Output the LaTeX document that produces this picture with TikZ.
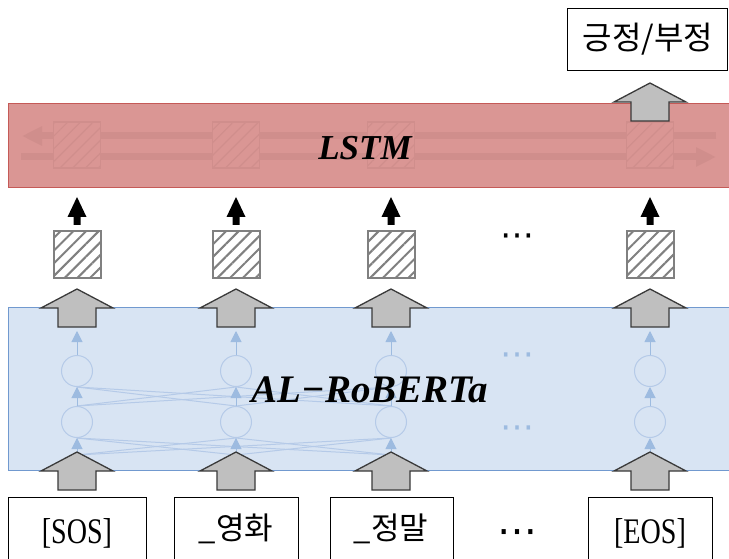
\documentclass[tikz,border=0pt]{standalone}
\usepackage{fontspec}
\setmainfont{Liberation Serif}
\newfontfamily\narrowserif[FakeStretch=0.78]{Liberation Serif}
\newfontfamily\krfont{Noto Sans CJK KR}
\newfontfamily\symfont{DejaVu Sans}
\usetikzlibrary{arrows.meta,patterns.meta}

\definecolor{lstmfill}{HTML}{DA9694}
\definecolor{lstmedge}{HTML}{C55A57}
\definecolor{lstmfaint}{HTML}{D08E8C}
\definecolor{encfill}{HTML}{D8E4F3}
\definecolor{encedge}{HTML}{7199CF}
\definecolor{netline}{HTML}{B5CAE8}
\definecolor{netarrow}{HTML}{9DBBE0}
\definecolor{arrowfill}{HTML}{BFBFBF}
\definecolor{arrowedge}{HTML}{3A3A3A}
\definecolor{hatchgray}{HTML}{808080}

\tikzset{
  band/.style={line width=1pt},
  tokenbox/.style={draw=black, line width=0.9pt},
  hatchbox/.style={draw=hatchgray, line width=2pt, inner sep=0pt,
    minimum width=47pt, minimum height=47pt, fill=white,
    postaction={pattern={Lines[angle=45,distance=9pt,line width=2pt]}, pattern color=hatchgray}},
  ghostbox/.style={draw=lstmfaint, line width=1.5pt, inner sep=0pt,
    minimum width=47pt, minimum height=46pt, fill=lstmfill,
    postaction={pattern={Lines[angle=45,distance=9pt,line width=1.2pt]}, pattern color=lstmfaint}},
  ghostflow/.style={draw=lstmfaint, line width=7pt, -{Triangle[length=20pt,width=18pt]}},
  cell/.style={circle, draw=netline, line width=1pt, minimum size=31pt, inner sep=0pt},
  netwire/.style={draw=netline, line width=1pt},
  netflow/.style={draw=netarrow, line width=1pt, -{Triangle[length=11pt,width=11pt]}},
  bigup/.pic={\draw[fill=arrowfill, draw=arrowedge, line width=1.3pt, line join=miter]
      (0,0) -- (36,19) -- (19,19) -- (19,38) -- (-19,38) -- (-19,19) -- (-36,19) -- cycle;},
  smallup/.pic={\fill[black]
      (0,0) -- (9.5,20) -- (3.5,20) -- (3.5,28) -- (-3.5,28) -- (-3.5,20) -- (-9.5,20) -- cycle;},
  latinlbl/.style={font=\narrowserif\fontsize{36}{40}\selectfont, anchor=base, inner sep=0pt},
  korlbl/.style={font=\krfont\fontsize{31}{36}\selectfont, inner sep=0pt},
  dotslbl/.style={font=\symfont\fontsize{34}{38}\selectfont, inner sep=0pt},
}

\begin{document}
\begin{tikzpicture}[x=1pt,y=-1pt]
\useasboundingbox (0,0) rectangle (729,559);
\fill[white] (0,0) rectangle (729,559);

% ---- output box ----
\draw[tokenbox] (567,8) rectangle (727,70);
\node[font=\krfont\fontsize{32}{36}\selectfont, inner sep=0pt] (out) at (648,39) {긍정/부정};

% ---- LSTM band ----
\filldraw[band, fill=lstmfill, draw=lstmedge] (8,104) rectangle (740,188);
\coordinate (bwdR) at (716,136);
\coordinate (bwdL) at (22,136);
\coordinate (fwdL) at (21,157);
\coordinate (fwdR) at (716,157);
\draw[ghostflow] (bwdR) -- (bwdL);
\draw[ghostflow] (fwdL) -- (fwdR);
\foreach \i/\x in {1/77,2/236,3/391,4/650}
  \node[ghostbox] (g\i) at (\x,145) {};
\node[font=\fontsize{35}{40}\selectfont\bfseries\itshape, anchor=base, inner sep=0pt] (lstm) at (365,160) {LSTM};
\pic at (650,83) {bigup};

% ---- token vectors between the two bands ----
\foreach \i/\x in {1/77,2/236,3/391,4/650}{
  \node[hatchbox] (h\i) at (\x,254.5) {};
  \pic at (\x,197) {smallup};
}
\node[dotslbl] (mdots) at (517,240) {⋯};

% ---- encoder band ----
\filldraw[band, fill=encfill, draw=encedge] (8,307) rectangle (740,470);
\foreach \i/\x in {1/77,2/236,3/391,4/650}{
  \node[cell] (u\i) at (\x,371) {};
  \node[cell] (l\i) at (\x,422) {};
  \coordinate (top\i) at (\x,331);
  \coordinate (bot\i) at (\x,455);
}
\foreach \i in {1,2,3}{
  \foreach \j in {1,2,3}{
    \ifnum\i=\j\relax\else
      \draw[netwire] (l\i.north) -- (u\j.south);
      \draw[netwire] (bot\i) -- (l\j.south);
    \fi
  }
}
\foreach \i in {1,2,3,4}{
  \draw[netflow] (u\i.north) -- (top\i);
  \draw[netflow] (l\i.north) -- (u\i.south);
  \draw[netflow] (bot\i) -- (l\i.south);
}
\node[dotslbl, text=netarrow] (edots1) at (517,359) {⋯};
\node[dotslbl, text=netarrow] (edots2) at (517,432) {⋯};
\node[font=\fontsize{39}{44}\selectfont\bfseries\itshape, anchor=base, inner sep=0pt] (enc) at (370,402) {AL−RoBERTa};

% ---- gray block arrows across the encoder ----
\foreach \x in {77,236,391,650}{
  \pic at (\x,289) {bigup};
  \pic at (\x,452) {bigup};
}

% ---- input tokens ----
\draw[tokenbox] (8,497) rectangle (146,575);
\draw[tokenbox] (174,497) rectangle (298,575);
\draw[tokenbox] (330,497) rectangle (453,575);
\draw[tokenbox] (588,497) rectangle (712,575);
\node[latinlbl] (sos) at (77,543) {[SOS]};
\node[korlbl] (tok1) at (236,529) {\_영화};
\node[korlbl] (tok2) at (391,529) {\_정말};
\node[dotslbl, font=\symfont\fontsize{40}{44}\selectfont] (bdots) at (517,537) {⋯};
\node[latinlbl] (eos) at (650,543) {[EOS]};
\end{tikzpicture}
\end{document}
